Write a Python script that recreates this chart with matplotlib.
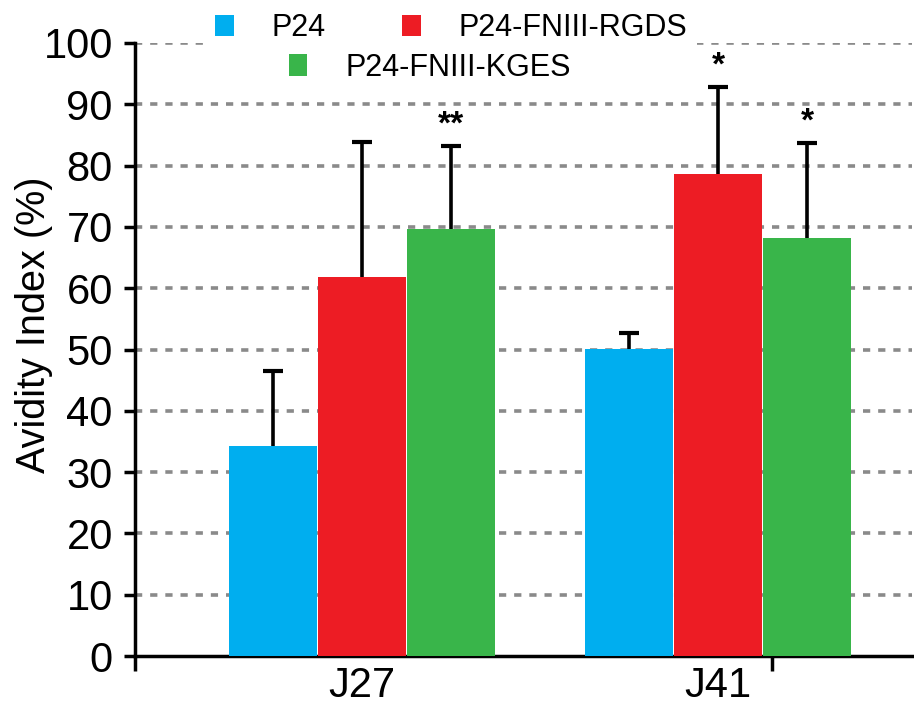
import numpy as np
import matplotlib
matplotlib.use("Agg")
import matplotlib.pyplot as plt
from matplotlib.patches import Patch

plt.rcParams['font.family'] = ['Liberation Sans', 'DejaVu Sans']
NARROW = ['Liberation Sans Narrow', 'Liberation Sans', 'DejaVu Sans']

# data
groups = ['J27', 'J41']
series = ['P24', 'P24-FNIII-RGDS', 'P24-FNIII-KGES']
means = {
    'P24': [34.3, 50.1],
    'P24-FNIII-RGDS': [61.8, 78.6],
    'P24-FNIII-KGES': [69.7, 68.2],
}
errs = {
    'P24': [12.2, 2.6],
    'P24-FNIII-RGDS': [22.0, 14.2],
    'P24-FNIII-KGES': [13.5, 15.5],
}
stars = {
    'P24': ['', ''],
    'P24-FNIII-RGDS': ['', '*'],
    'P24-FNIII-KGES': ['**', '*'],
}
colors = ['#00AEEF', '#ED1C24', '#39B54A']

fig = plt.figure(figsize=(9.14, 7.06), dpi=100)
ax = fig.add_axes([135 / 914, 50 / 706, 777 / 914, 613 / 706])

x = np.arange(len(groups))
w = 0.25
for i, (s, c) in enumerate(zip(series, colors)):
    pos = x + (i - 1) * w
    m = np.array(means[s])
    e = np.array(errs[s])
    ax.bar(pos, m, width=w - 0.004, color=c, zorder=3)
    # upper-only error bar: stem + top cap
    ax.vlines(pos, m, m + e, color='black', linewidth=2.6, zorder=4)
    ax.plot(pos, m + e, linestyle='none', marker='_', markersize=15,
            markeredgewidth=3, color='black', zorder=4)
    for p, top, t in zip(pos, m + e, stars[s]):
        if t:
            ax.text(p, top + 0.9, t, ha='center', va='bottom',
                    fontsize=24, fontweight='bold', zorder=5)

ax.set_xlim(-0.638, 1.545)
ax.set_ylim(0, 100)
ax.set_yticks(np.arange(0, 101, 10))
ax.yaxis.grid(True, linestyle=(0, (2.0, 2.2)), color='#8a8a8a', linewidth=2.6, zorder=0)
ax.tick_params(axis='y', length=8, width=2.5, direction='out', pad=8)
for lab in ax.get_yticklabels():
    lab.set_family(NARROW)
    lab.set_fontsize(30)
# no gridline on the x axis itself
ax.yaxis.get_gridlines()[0].set_visible(False)

# tick marks on x axis (as in the original) and category labels
ax.set_xticks([-0.638, 1.152])
ax.set_xticklabels(['', ''])
ax.set_xticks(x, minor=True)
ax.set_xticklabels(groups, minor=True)
for lab in ax.get_xticklabels(minor=True):
    lab.set_family(NARROW)
    lab.set_fontsize(30)
ax.tick_params(axis='x', which='major', length=11, width=2.5)
ax.tick_params(axis='x', which='minor', length=0, pad=7)

for side in ['top', 'right']:
    ax.spines[side].set_visible(False)
for side in ['left', 'bottom']:
    ax.spines[side].set_linewidth(2.5)

ax.set_ylabel('Avidity Index (%)', fontsize=28.5)
ax.yaxis.set_label_coords(-0.106, 0.54)

handles = [Patch(facecolor=c) for c in colors]
fig.legend(handles[:2], series[:2], ncol=2, loc='center', bbox_to_anchor=(0.494, 0.960),
           frameon=True, facecolor='white', edgecolor='none', framealpha=1,
           fontsize=22, handlelength=0.6, handleheight=0.72, handletextpad=1.25,
           columnspacing=2.5, borderpad=0.3)
fig.legend(handles[2:], series[2:], loc='center', bbox_to_anchor=(0.470, 0.904),
           frameon=False, fontsize=22, handlelength=0.6, handleheight=0.72,
           handletextpad=1.25, borderpad=0.2)

fig.savefig('out.png', dpi=100)
